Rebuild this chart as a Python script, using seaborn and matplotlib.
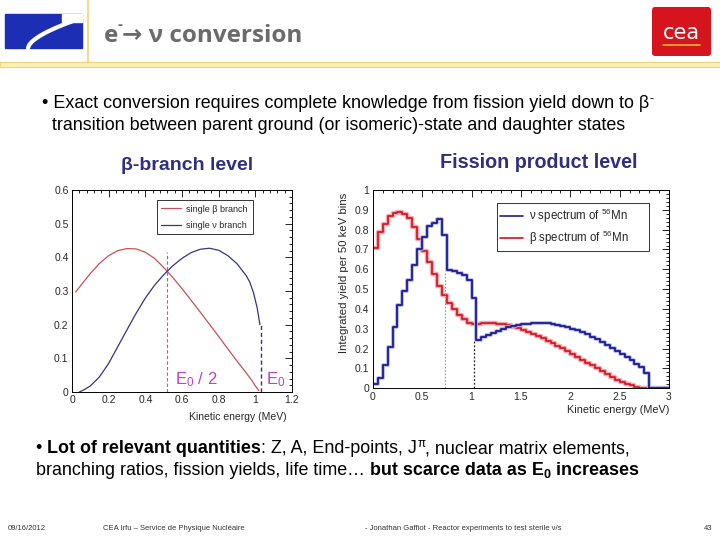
import numpy as np
import pandas as pd
import matplotlib
matplotlib.use("Agg")
import matplotlib.pyplot as plt
import seaborn as sns
from matplotlib.patches import Rectangle, FancyBboxPatch
from matplotlib.ticker import MultipleLocator, FuncFormatter
from matplotlib.lines import Line2D

# ---------------- data ----------------
# left panel: single beta branch (E0 ~ 1.03 MeV)
beta_branch_E = [0.02, 0.05, 0.10, 0.15, 0.20, 0.25, 0.30, 0.35, 0.40, 0.45, 0.50, 0.55,
                 0.60, 0.65, 0.70, 0.75, 0.80, 0.85, 0.90, 0.95, 0.98, 1.00, 1.02]
beta_branch_y = [0.297, 0.318, 0.352, 0.382, 0.405, 0.420, 0.426, 0.425, 0.415, 0.397, 0.370, 0.340,
                 0.307, 0.272, 0.237, 0.201, 0.165, 0.128, 0.092, 0.057, 0.035, 0.018, 0.004]
nu_branch_E = [0.04, 0.07, 0.10, 0.15, 0.20, 0.25, 0.30, 0.35, 0.40, 0.45, 0.50, 0.55,
               0.60, 0.65, 0.70, 0.75, 0.80, 0.85, 0.90, 0.95, 0.97, 0.99, 1.01, 1.025]
nu_branch_y = [0.000, 0.008, 0.018, 0.045, 0.085, 0.135, 0.185, 0.234, 0.279, 0.317, 0.348, 0.375,
               0.397, 0.414, 0.424, 0.427, 0.421, 0.405, 0.381, 0.346, 0.326, 0.295, 0.250, 0.200]
e0_half = 0.52
e0_half_top = 0.415
e0 = 1.03
e0_top = 0.20

# right panel: 56Mn spectra, 50 keV bins starting at 0
bin_width = 0.05
nu_hist = [0.020, 0.050, 0.120, 0.210, 0.310, 0.420, 0.490, 0.545, 0.620, 0.700,
           0.765, 0.820, 0.835, 0.855, 0.775, 0.595, 0.590, 0.583, 0.572, 0.548,
           0.455, 0.245, 0.257, 0.268, 0.279, 0.290, 0.300, 0.308, 0.314, 0.319,
           0.323, 0.326, 0.328, 0.329, 0.329, 0.327, 0.324, 0.320, 0.315, 0.308,
           0.300, 0.292, 0.282, 0.272, 0.260, 0.247, 0.234, 0.220, 0.205, 0.190,
           0.175, 0.160, 0.143, 0.125, 0.105, 0.075, 0.0, 0.0, 0.0, 0.0]
beta_hist = [0.710, 0.790, 0.830, 0.870, 0.885, 0.890, 0.880, 0.857, 0.815, 0.755,
             0.690, 0.635, 0.575, 0.515, 0.470, 0.430, 0.400, 0.370, 0.348, 0.330,
             0.325, 0.326, 0.328, 0.329, 0.328, 0.326, 0.322, 0.317, 0.311, 0.303,
             0.294, 0.285, 0.275, 0.264, 0.252, 0.240, 0.228, 0.215, 0.201, 0.188,
             0.174, 0.160, 0.145, 0.130, 0.115, 0.100, 0.086, 0.070, 0.055, 0.043,
             0.032, 0.023, 0.015, 0.009, 0.004, 0.001, 0.0, 0.0, 0.0, 0.0]
gray_line_E, gray_line_top = 0.73, 0.59
black_line_E, black_line_top = 1.03, 0.245

left_xticks = [0, 0.2, 0.4, 0.6, 0.8, 1.0, 1.2]
left_yticks = [0, 0.1, 0.2, 0.3, 0.4, 0.5, 0.6]
right_xticks = [0, 0.5, 1, 1.5, 2, 2.5, 3]
right_yticks = [0, 0.1, 0.2, 0.3, 0.4, 0.5, 0.6, 0.7, 0.8, 0.9, 1]

# ---------------- style ----------------
sns.set_style("white")
FAM = ["Liberation Sans", "DejaVu Sans"]
plt.rcParams["font.family"] = FAM
plt.rcParams["mathtext.fontset"] = "custom"
plt.rcParams["mathtext.rm"] = "Liberation Sans"
plt.rcParams["mathtext.it"] = "Liberation Sans:italic"
plt.rcParams["mathtext.bf"] = "Liberation Sans:bold"

fig = plt.figure(figsize=(7.2, 5.4), dpi=100)
bg = fig.add_axes([0, 0, 1, 1], zorder=0)
bg.set_xlim(0, 720)
bg.set_ylim(540, 0)
bg.axis("off")

# ---- header decorations ----
bg.add_patch(Rectangle((5, 14), 77, 34, color="#1c2fb4", zorder=1))
tt = np.linspace(0, 1, 50)
bg.plot(28 + 54 * tt, 48 - 30 * tt ** 0.6, color="white", lw=3, zorder=2)
bg.add_patch(Rectangle((62, 14), 20, 8, color="white", zorder=2))
bg.plot([88, 88], [0, 62], color="#f0dc82", lw=1.5, zorder=1)
bg.add_patch(Rectangle((0, 62), 720, 5, facecolor="#fbf0b8", edgecolor="#ecd574", lw=0.8, zorder=1))
bg.add_patch(FancyBboxPatch((652, 7), 59, 49, boxstyle="round,pad=0,rounding_size=3",
                            facecolor="#d5141e", edgecolor="none", zorder=1))
bg.text(681.5, 33, "cea", color="white", fontsize=15, ha="center", va="center",
        family=["DejaVu Sans"], zorder=2)
bg.plot([663, 700], [45, 45], color="#e8b040", lw=1.2, zorder=2)
bg.text(104, 42, "e", fontsize=17.5, fontweight="bold", color="#6b6b6b", va="baseline",
        family=["Open Sans", "DejaVu Sans"])
bg.text(117, 29, "-", fontsize=11, fontweight="bold", color="#6b6b6b", va="baseline",
        family=["Open Sans", "DejaVu Sans"])
bg.text(122, 42, "\u2192 \u03bd conversion", fontsize=17.5, fontweight="bold", color="#6b6b6b",
        va="baseline", family=["Open Sans", "DejaVu Sans"])

renderer = fig.canvas.get_renderer()


def chain(x, y, pieces, size, color="black"):
    for s, bold, scale, dy in pieces:
        t = bg.text(x, y + dy, s, fontsize=size * scale,
                    fontweight="bold" if bold else "normal",
                    color=color, va="baseline", ha="left", family=FAM)
        bb = t.get_window_extent(renderer=renderer)
        x += bb.width
    return x


chain(42, 108, [("\u2022 Exact conversion requires complete knowledge from fission yield down to \u03b2", False, 1, 0),
                ("-", False, 0.7, -6)], 12.9)
chain(52, 130, [("transition between parent ground (or isomeric)-state and daughter states", False, 1, 0)], 12.9)

chain(36, 453, [("\u2022 ", False, 1, 0), ("Lot of relevant quantities", True, 1, 0),
                (": Z, A, End-points, J", False, 1, 0), ("\u03c0", False, 0.65, -6),
                (", nuclear matrix elements,", False, 1, 0)], 12.9)
chain(36, 475, [("branching ratios, fission yields, life time\u2026 ", False, 1, 0),
                ("but scarce data as E", True, 1, 0), ("0", True, 0.7, 3),
                (" increases", True, 1, 0)], 12.9)

foot_c = "#333333"
bg.text(8, 530, "09/16/2012", fontsize=5.5, color=foot_c, va="baseline")
bg.text(103, 530, "CEA Irfu \u2013 Service de Physique Nucl\u00e9aire", fontsize=5.5, color=foot_c, va="baseline")
bg.text(365, 530, "- Jonathan Gaffiot - Reactor experiments to test sterile \u03bd/s", fontsize=5.5,
        color=foot_c, va="baseline")
bg.text(704, 530, "43", fontsize=5.5, color=foot_c, va="baseline")

title_c = "#2f2f80"
bg.text(187, 166, "\u03b2-branch level", fontsize=14, fontweight="bold", color=title_c,
        ha="center", va="center")
bg.text(539, 163, "Fission product level", fontsize=14.2, fontweight="bold", color=title_c,
        ha="center", va="center")


def fmt(v, p):
    return "%g" % round(v, 6)


def root_axes(ax, xmaj, xmin, ymaj, ymin):
    ax.xaxis.set_major_locator(MultipleLocator(xmaj))
    ax.xaxis.set_minor_locator(MultipleLocator(xmin))
    ax.yaxis.set_major_locator(MultipleLocator(ymaj))
    ax.yaxis.set_minor_locator(MultipleLocator(ymin))
    ax.xaxis.set_major_formatter(FuncFormatter(fmt))
    ax.yaxis.set_major_formatter(FuncFormatter(fmt))
    ax.tick_params(which="both", direction="in", top=True, right=True, labelsize=7.5,
                   color="black", width=0.6, pad=2.5)
    ax.tick_params(which="major", length=5)
    ax.tick_params(which="minor", length=2.5)
    for s in ax.spines.values():
        s.set_color("black")
        s.set_linewidth(0.7)
    ax.set_facecolor("white")


# ---------------- left panel ----------------
ax1 = fig.add_axes([72 / 720, (540 - 392) / 540, 220 / 720, 202 / 540], zorder=3)
df_b = pd.DataFrame({"E": beta_branch_E, "y": beta_branch_y})
df_n = pd.DataFrame({"E": nu_branch_E, "y": nu_branch_y})
red1 = "#c8505a"
blue1 = "#34347e"
sns.lineplot(data=df_b, x="E", y="y", ax=ax1, color=red1, lw=0.9, estimator=None, sort=False)
sns.lineplot(data=df_n, x="E", y="y", ax=ax1, color=blue1, lw=0.9, estimator=None, sort=False)
ax1.vlines(e0_half, 0, e0_half_top, colors="#c050c8", linestyles=(0, (3, 2)), lw=0.8)
ax1.vlines(e0, 0, e0_top, colors=blue1, linestyles=(0, (3, 2)), lw=1.0)
ax1.set_xlim(0, 1.2)
ax1.set_ylim(0, 0.6)
root_axes(ax1, 0.2, 0.04, 0.1, 0.02)
ax1.set_xticks(left_xticks)
ax1.set_yticks(left_yticks)
ax1.set_xlabel("")
ax1.set_ylabel("")
ax1.text(0.977, -0.122, "Kinetic energy (MeV)", transform=ax1.transAxes, ha="right",
         va="center", fontsize=7.5)
ax1.text(e0_half + 0.04, 0.022, r"$\mathrm{E_0\ /\ 2}$", color="#c040c0", fontsize=12)
ax1.text(e0 + 0.03, 0.022, r"$\mathrm{E_0}$", color="#c040c0", fontsize=12)
h1 = [Line2D([], [], color=red1, lw=0.9), Line2D([], [], color=blue1, lw=0.9)]
leg1 = ax1.legend(h1, ["single \u03b2 branch", "single \u03bd branch"], loc="upper left",
                  bbox_to_anchor=(0.385, 0.95), fontsize=6.5, frameon=True, fancybox=False,
                  borderaxespad=0, handlelength=2.2, borderpad=0.5, labelspacing=0.8,
                  handletextpad=0.6)
leg1.get_frame().set_edgecolor("black")
leg1.get_frame().set_linewidth(0.7)

# ---------------- right panel ----------------
ax2 = fig.add_axes([372.8 / 720, (540 - 388.3) / 540, 296.2 / 720, 198.3 / 540], zorder=3)
edges = [round(i * bin_width, 4) for i in range(len(nu_hist) + 1)]
centers = [round((i + 0.5) * bin_width, 4) for i in range(len(nu_hist))]
df_h = pd.DataFrame({"E": centers, "nu": nu_hist, "beta": beta_hist})
red2 = "#d0101c"
blue2 = "#1c1c90"
for col, c, lw in [("beta", "#f4a8b0", 3.2), ("beta", red2, 1.2),
                   ("nu", "#aab0e6", 2.6), ("nu", blue2, 1.3)]:
    sns.histplot(data=df_h, x="E", weights=col, bins=edges, element="step", fill=False,
                 color=c, lw=lw, ax=ax2)
ax2.vlines(gray_line_E, 0, gray_line_top, colors="#999999", linestyles=(0, (1.5, 1.5)), lw=0.8)
ax2.vlines(black_line_E, 0, black_line_top, colors="#222222", linestyles=(0, (1.5, 1.5)), lw=0.9)
ax2.set_xlim(0, 3)
ax2.set_ylim(0, 1)
root_axes(ax2, 0.5, 0.1, 0.1, 0.02)
ax2.set_xticks(right_xticks)
ax2.set_yticks(right_yticks)
ax2.set_xlabel("")
ax2.set_ylabel("")
ax2.text(1.0, -0.109, "Kinetic energy (MeV)", transform=ax2.transAxes, ha="right",
         va="center", fontsize=7.8)
ax2.text(-0.097, 0.985, "Integrated yield per 50 keV bins", transform=ax2.transAxes,
         rotation=90, ha="center", va="top", fontsize=8.2)
h2 = [Line2D([], [], color=blue2, lw=1.2), Line2D([], [], color=red2, lw=1.2)]
leg2 = ax2.legend(h2, ["\u03bd spectrum of $^{56}$Mn", "\u03b2 spectrum of $^{56}$Mn"],
                  loc="upper left", bbox_to_anchor=(0.418, 0.711, 0.516, 0.222), mode="expand",
                  fontsize=8.3, frameon=True, fancybox=False, borderaxespad=0,
                  handlelength=2.0, borderpad=0.3, labelspacing=0.35, handletextpad=0.5)
leg2.get_frame().set_edgecolor("black")
leg2.get_frame().set_linewidth(0.7)

fig.savefig("out.png", dpi=100, facecolor="white")
